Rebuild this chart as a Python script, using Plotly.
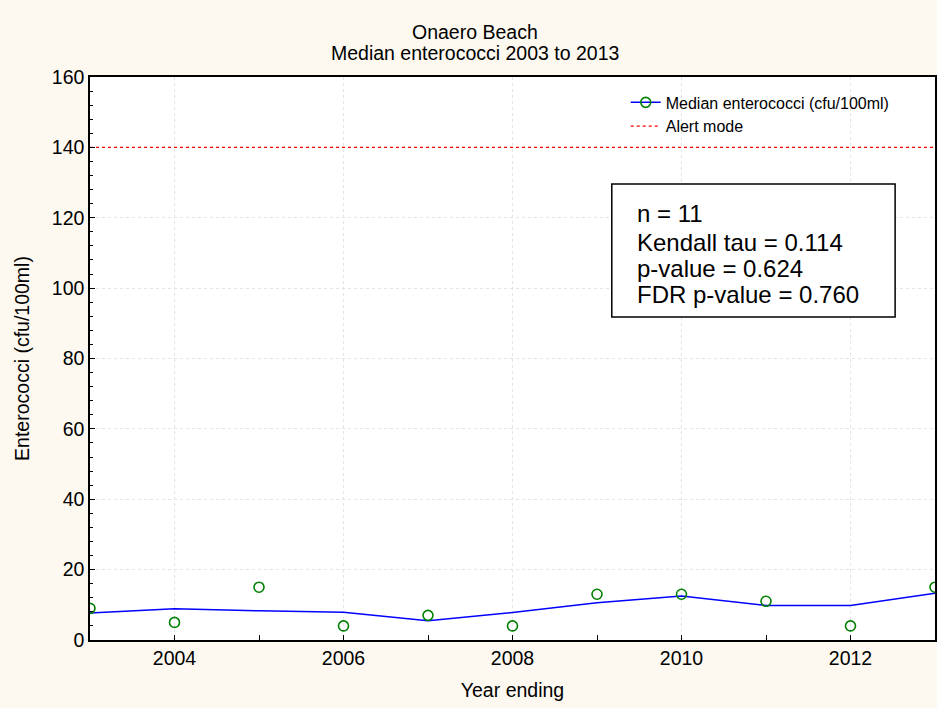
import plotly.graph_objects as go

years = [2003, 2004, 2005, 2006, 2007, 2008, 2009, 2010, 2011, 2012, 2013]
median_entero = [9, 5, 15, 4, 7, 4, 13, 13, 11, 4, 15]
smooth_line = [7.7, 8.9, 8.3, 7.9, 5.5, 7.8, 10.6, 12.5, 9.8, 9.8, 13.3]
alert_level = 140
title_lines = ["Onaero Beach", "Median enterococci 2003 to 2013"]
stats_lines = ["n = 11", "Kendall tau = 0.114", "p-value = 0.624", "FDR p-value = 0.760"]

FONT = "Arial, Liberation Sans, sans-serif"
F = 19.5

fig = go.Figure()
fig.add_trace(go.Scatter(
    x=years, y=smooth_line, mode="lines", line=dict(color="#0000FF", width=1.5),
    showlegend=False, hoverinfo="skip"))
fig.add_trace(go.Scatter(
    x=years, y=median_entero, mode="markers",
    marker=dict(symbol="circle-open", size=10, color="#008000", line=dict(width=1.6)),
    name="Median enterococci (cfu/100ml)", showlegend=False))
fig.add_trace(go.Scatter(
    x=[None], y=[None], mode="lines+markers",
    line=dict(color="#0000FF", width=1.5),
    marker=dict(symbol="circle-open", size=10, color="#008000", line=dict(width=1.6)),
    name="Median enterococci (cfu/100ml)"))
fig.add_trace(go.Scatter(
    x=[years[0], years[-1]], y=[alert_level, alert_level], mode="lines",
    line=dict(color="#FF0000", width=1.3, dash="dot"), name="Alert mode"))

annotations = []
for txt, yy in zip(title_lines, [1.080, 1.0426]):
    annotations.append(dict(text=txt, xref="paper", yref="paper", x=0.456, y=yy,
                            xanchor="center", yanchor="middle", showarrow=False,
                            font=dict(size=F)))
for txt, yy in zip(stats_lines, [0.7584, 0.7069, 0.6607, 0.6128]):
    annotations.append(dict(text=txt, xref="paper", yref="paper", x=0.6446, y=yy,
                            xanchor="left", yanchor="middle", showarrow=False,
                            font=dict(size=24)))

fig.update_layout(
    width=937, height=708,
    paper_bgcolor="#FDF9F0", plot_bgcolor="#FFFFFF",
    font=dict(family=FONT, size=F, color="#000000"),
    margin=dict(l=90, r=0, t=77, b=68),
    legend=dict(x=0.634, y=0.985, xanchor="left", yanchor="top",
                bgcolor="rgba(0,0,0,0)", font=dict(size=16), tracegroupgap=0,
                itemwidth=30),
    xaxis=dict(range=[2003, 2013], dtick=2, tick0=2004, showgrid=True,
               gridcolor="#E4E4E4", griddash="dot", gridwidth=1,
               showline=True, linecolor="#000000", mirror=True, linewidth=1.5,
               ticks="inside", ticklen=5, tickcolor="#000000",
               tickfont=dict(size=F),
               minor=dict(dtick=1, ticks="inside", ticklen=5, tickcolor="#000000", showgrid=False),
               title=dict(text="Year ending", font=dict(size=F), standoff=15),
               zeroline=False),
    yaxis=dict(range=[0, 160], dtick=20, showgrid=True,
               gridcolor="#E4E4E4", griddash="dot", gridwidth=1,
               showline=True, linecolor="#000000", mirror=True, linewidth=1.5,
               ticks="inside", ticklen=5, tickcolor="#000000",
               tickfont=dict(size=F),
               minor=dict(dtick=4, ticks="inside", ticklen=3, tickcolor="#000000", showgrid=False),
               title=dict(text="Enterococci (cfu/100ml)", font=dict(size=F), standoff=17),
               zeroline=False),
    shapes=[dict(type="rect", xref="paper", yref="paper", x0=0.6175, x1=0.9528,
                 y0=0.5737, y1=0.81, line=dict(color="#000000", width=1.5),
                 fillcolor="#FFFFFF", layer="above")],
    annotations=annotations,
)

fig.write_html("out.html", config={"displayModeBar": False},
               post_script="document.body.style.margin='0';document.body.style.padding='0';")
